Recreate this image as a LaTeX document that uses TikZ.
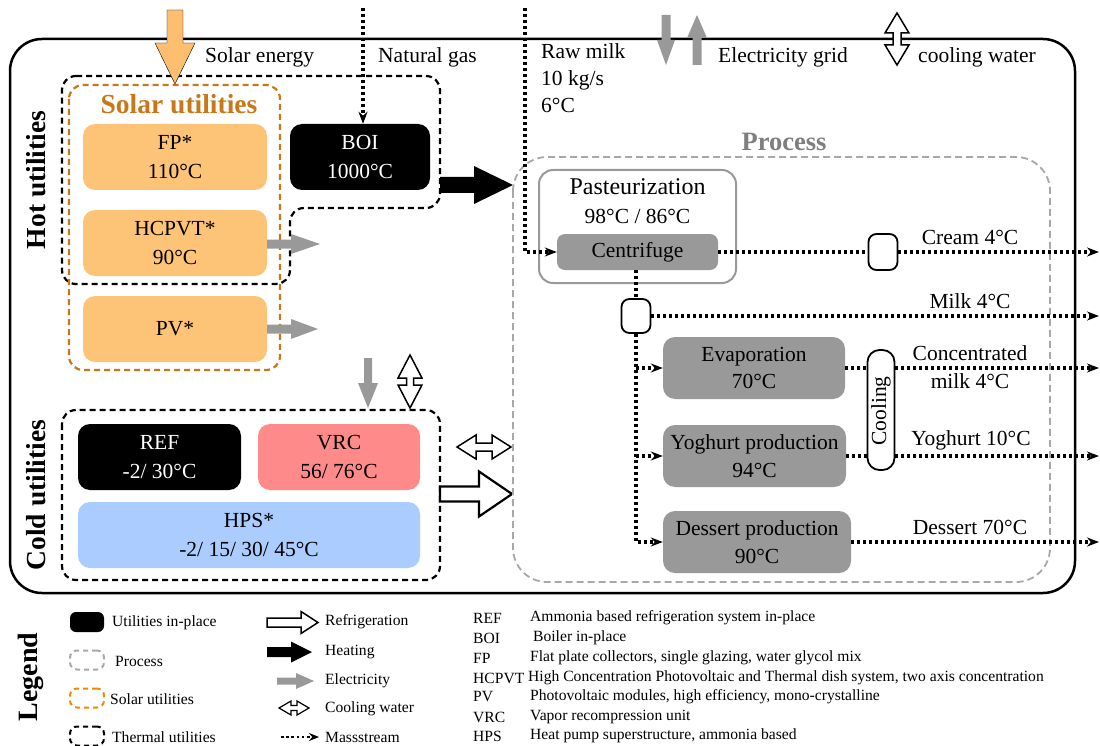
\documentclass[tikz,border=0pt]{standalone}
\usepackage{fontspec}
\setmainfont{Liberation Serif}
\usetikzlibrary{arrows.meta}
\definecolor{solarfill}{HTML}{FDC477}
\definecolor{solardark}{HTML}{C87818}
\definecolor{solarleg}{HTML}{F08A00}
\definecolor{sunarrow}{HTML}{FDBF6F}
\definecolor{vrcfill}{HTML}{FF8A8A}
\definecolor{hpsfill}{HTML}{AACCFF}
\definecolor{procgray}{HTML}{999999}
\definecolor{procdash}{HTML}{A8A8A8}
\definecolor{proctitle}{HTML}{7F7F7F}
\definecolor{elecgray}{HTML}{999999}
\newcommand\mainsz{\fontsize{21.5}{28.5}\selectfont}
\newcommand\legsz{\fontsize{15.6}{19}\selectfont}
% horizontal block arrow: style, x0, y, tip x, shaft half, head half, head base x
\newcommand\harr[7]{\draw[#1] (#2,#3-#5) -- (#7,#3-#5) -- (#7,#3-#6) -- (#4,#3) -- (#7,#3+#6) -- (#7,#3+#5) -- (#2,#3+#5) -- cycle;}
% vertical block arrow: style, x, y0, tip y, shaft half, head half, head base y
\newcommand\varr[7]{\draw[#1] (#2-#5,#3) -- (#2-#5,#7) -- (#2-#6,#7) -- (#2,#4) -- (#2+#6,#7) -- (#2+#5,#7) -- (#2+#5,#3) -- cycle;}
% horizontal double arrow: style, y, x0, x1, shaft half, head half, head length
\newcommand\hdarr[7]{\draw[#1] (#3,#2) -- (#3+#7,#2-#6) -- (#3+#7,#2-#5) -- (#4-#7,#2-#5) -- (#4-#7,#2-#6) -- (#4,#2) -- (#4-#7,#2+#6) -- (#4-#7,#2+#5) -- (#3+#7,#2+#5) -- (#3+#7,#2+#6) -- cycle;}
% vertical double arrow: style, x, y0, y1, shaft half, head half, head length
\newcommand\vdarr[7]{\draw[#1] (#2,#3) -- (#2-#6,#3+#7) -- (#2-#5,#3+#7) -- (#2-#5,#4-#7) -- (#2-#6,#4-#7) -- (#2,#4) -- (#2+#6,#4-#7) -- (#2+#5,#4-#7) -- (#2+#5,#3+#7) -- (#2+#6,#3+#7) -- cycle;}
\tikzset{
  every node/.style={font=\mainsz},
  ubox/.style={rounded corners=12pt, align=center, inner sep=0pt, minimum height=66pt},
  solarbox/.style={ubox, fill=solarfill, minimum width=184pt},
  blackbox/.style={ubox, fill=black, text=white},
  procbox/.style={ubox, fill=procgray, minimum height=62pt, font=\fontsize{21.5}{27.5}\selectfont},
  smallbox/.style={draw=black, fill=white, line width=1.8pt, rounded corners=8pt, inner sep=0pt},
  thermdash/.style={draw=black, line width=2.2pt, dash pattern=on 6pt off 4pt, rounded corners=14pt},
  solardash/.style={draw=solardark, line width=2.2pt, dash pattern=on 6pt off 4pt, rounded corners=14pt},
  procdashed/.style={draw=procdash, line width=1.8pt, dash pattern=on 7pt off 4pt, rounded corners=34pt},
  massline/.style={line width=3.4pt, dash pattern=on 3pt off 3pt},
  massflow/.style={massline, -{Stealth[length=12pt,width=9pt]}},
  elec/.style={fill=elecgray, draw=none},
  heat/.style={fill=black, draw=none},
  cool/.style={fill=white, draw=black, line width=1.5pt, line join=miter},
  refr/.style={fill=white, draw=black, line width=2.2pt, line join=miter},
  title/.style={font=\fontsize{27.5}{32}\selectfont\bfseries},
  legtxt/.style={font=\legsz, anchor=west, inner sep=0pt},
}
\begin{document}
\begin{tikzpicture}[x=1pt, y=-1pt]
\useasboundingbox (0,0) rectangle (1100,746);
% outer frame
\draw[line width=2.5pt, rounded corners=32pt] (10,39) rectangle (1075,593);

% ---- hot utilities ----
\draw[thermdash] (62,76) -- (440,76) -- (440,208) -- (290,208) -- (290,284) -- (62,284) -- cycle;
\draw[solardash] (69,85) rectangle (280,370);
\node[title, text=solardark] (soltitle) at (179,104) {Solar utilities};
\node[solarbox] (fp) at (175,157) {FP*\\110°C};
\node[solarbox] (hcpvt) at (175,243) {HCPVT*\\90°C};
\node[solarbox] (pv) at (175,329) {PV*};
\node[blackbox, minimum width=140pt] (boi) at (360,157) {BOI\\1000°C};
\node[title, rotate=90] (hotlbl) at (36,180) {Hot utilities};

% ---- cold utilities ----
\draw[thermdash] (62,410) rectangle (440,580);
\node[blackbox, minimum width=163pt] (ref) at (159.5,457) {REF\\-2/ 30°C};
\node[ubox, fill=vrcfill, minimum width=162pt] (vrc) at (339,457) {VRC\\56/ 76°C};
\node[ubox, fill=hpsfill, minimum width=342pt] (hps) at (249,535) {HPS*\\-2/ 15/ 30/ 45°C};
\node[title, rotate=90] (coldlbl) at (36,495) {Cold utilities};

% ---- top inputs ----
\varr{fill=sunarrow}{175}{10}{84}{8}{20}{43}
\node[anchor=west, inner sep=0pt] (solarlbl) at (205,57) {Solar energy};
\coordinate (gasin) at (363,8);
\draw[massflow] (gasin) -- (gasin |- boi.north);
\node[anchor=west, inner sep=0pt] (gaslbl) at (378,57) {Natural gas};
\node[anchor=north west, align=left, inner sep=0pt, font=\fontsize{21.5}{27}\selectfont] (milklbl) at (541,43) {Raw milk\\10 kg/s\\6°C};
\varr{elec}{666}{15}{65}{4.5}{9}{40}
\varr{elec}{697}{65}{15}{4.5}{10}{38}
\node[anchor=west, inner sep=0pt] (gridlbl) at (718,57) {Electricity grid};
\vdarr{cool}{897}{13}{65}{4}{12}{20}
\node[anchor=west, inner sep=0pt] (cwlbl) at (918,57) {cooling water};

% ---- utility arrows ----
\harr{heat}{440}{185}{513}{8}{19}{474}
\harr{elec}{267}{244}{320}{4.5}{10}{291}
\harr{elec}{267}{329}{318}{4.5}{10}{291}
\varr{elec}{368}{358}{408}{4}{10}{383}
\vdarr{cool}{410}{355}{408}{3.5}{12}{23}
\hdarr{cool}{447}{457}{511}{4}{12}{19}
\harr{refr}{440}{494}{512}{7.5}{22.5}{479}

% ---- process ----
\draw[procdashed] (513,157) rectangle (1050,582);
\node[font=\fontsize{26.5}{30}\selectfont\bfseries, text=proctitle] (proctitle) at (784,142) {Process};
\node[draw=procgray, line width=2pt, rounded corners=14pt, minimum width=197pt, minimum height=113pt, inner sep=0pt] (past) at (637.5,226.5) {};
\node[font=\fontsize{24}{28}\selectfont] (pastname) at (637.5,187) {Pasteurization};
\node (pasttemp) at (637.5,216) {98°C / 86°C};
\node[ubox, fill=procgray, minimum width=161pt, minimum height=36pt, rounded corners=8pt] (cent) at (637.5,252) {Centrifuge};
\node[smallbox, minimum width=29pt, minimum height=36pt] (sb1) at (883,252) {};
\node[smallbox, minimum width=29pt, minimum height=34pt] (sb2) at (636,316) {};
\node[procbox, minimum width=182pt] (evap) at (754,368) {Evaporation\\70°C};
\node[procbox, minimum width=183pt] (yog) at (754.5,456) {Yoghurt production\\94°C};
\node[procbox, minimum width=188pt] (des) at (757,542) {Dessert production\\90°C};
\node[smallbox, rounded corners=12pt, minimum width=27pt, minimum height=120pt] (coolbox) at (881,410) {};
\node[rotate=90] (cooltxt) at (881,411) {Cooling};

\coordinate (milkin) at (525,8);
\coordinate (creamout) at (1099,252);
\coordinate (milkout) at (1099,316);
\coordinate (evapout) at (1099,368);
\coordinate (yogout) at (1099,456);
\coordinate (desout) at (1099,542);
\draw[massflow] (milkin) |- (cent.west);
\draw[massline] (cent.east) -- (sb1.west);
\draw[massflow] (sb1.east) -- (creamout);
\draw[massline] (sb2.north |- cent.south) -- (sb2.north);
\draw[massflow] (sb2.east) -- (milkout);
\draw[massflow] (sb2.south) |- (des.west);
\draw[massflow] (sb2.south |- evap.west) -- (evap.west);
\draw[massflow] (sb2.south |- yog.west) -- (yog.west);
\draw[massline] (evap.east) -- (coolbox.west |- evap.east);
\draw[massflow] (coolbox.east |- evap.east) -- (evapout);
\draw[massline] (yog.east) -- (coolbox.west |- yog.east);
\draw[massflow] (coolbox.east |- yog.east) -- (yogout);
\draw[massflow] (des.east) -- (desout);

\node (creamlbl) at (970,237) {Cream 4°C};
\node (milk4lbl) at (970,301) {Milk 4°C};
\node[align=center, font=\fontsize{21.5}{27.5}\selectfont] (conclbl) at (970,367) {Concentrated\\milk 4°C};
\node (yoglbl) at (971,440) {Yoghurt 10°C};
\node (deslbl) at (970,527) {Dessert 70°C};

% ---- legend ----
\node[title, font=\fontsize{28}{32}\selectfont\bfseries, rotate=90] (leglbl) at (31,677) {Legend};
\node[fill=black, rounded corners=6pt, minimum width=34pt, minimum height=20pt, inner sep=0pt] (lgin) at (87,622) {};
\node[draw=procdash, line width=2pt, dash pattern=on 5pt off 4pt, rounded corners=7pt, minimum width=34pt, minimum height=19pt, inner sep=0pt] (lgproc) at (87,660) {};
\node[draw=solarleg, line width=2pt, dash pattern=on 5pt off 4pt, rounded corners=7pt, minimum width=34pt, minimum height=19pt, inner sep=0pt] (lgsol) at (87,698) {};
\node[draw=black, line width=2pt, dash pattern=on 5pt off 4pt, rounded corners=7pt, minimum width=34pt, minimum height=19pt, inner sep=0pt] (lgth) at (87,736) {};
\node[legtxt] (lgintxt) at (112,623) {Utilities in-place};
\node[legtxt] (lgproctxt) at (115,661) {Process};
\node[legtxt] (lgsoltxt) at (110,699) {Solar utilities};
\node[legtxt] (lgthtxt) at (112,737) {Thermal utilities};

\harr{refr, line width=1.5pt}{267}{622.5}{318}{4.5}{11}{301}
\harr{heat}{267}{652}{312}{5}{10.5}{291}
\harr{elec}{277}{681}{314}{3.5}{8}{296}
\hdarr{cool, line width=1.2pt}{708}{279}{309}{2.5}{7}{12}
\coordinate (lgm0) at (281,737);
\coordinate (lgm1) at (319,737);
\draw[line width=2.8pt, dash pattern=on 2.6pt off 2.6pt, -{Stealth[length=10pt,width=8pt]}] (lgm0) -- (lgm1);
\node[legtxt] (lgrefr) at (325,622) {Refrigeration};
\node[legtxt] (lgheat) at (325,652) {Heating};
\node[legtxt] (lgelec) at (325,681) {Electricity};
\node[legtxt] (lgcw) at (325,709) {Cooling water};
\node[legtxt] (lgms) at (325,737) {Massstream};

\node[legtxt] (abref) at (473,618) {REF};
\node[legtxt] (abboi) at (473,638) {BOI};
\node[legtxt] (abfp) at (473,658) {FP};
\node[legtxt] (abhc) at (473,678) {HCPVT};
\node[legtxt] (abpv) at (473,697) {PV};
\node[legtxt] (abvrc) at (473,717) {VRC};
\node[legtxt] (abhps) at (473,736) {HPS};
\node[legtxt] (deref) at (530,618) {Ammonia based refrigeration system in-place};
\node[legtxt] (deboi) at (533,638) {Boiler in-place};
\node[legtxt] (defp) at (530,658) {Flat plate collectors, single glazing, water glycol mix};
\node[legtxt] (dehc) at (528,678) {High Concentration Photovoltaic and Thermal dish system, two axis concentration};
\node[legtxt] (depv) at (530,697) {Photovoltaic modules, high efficiency, mono-crystalline};
\node[legtxt] (devrc) at (530,717) {Vapor recompression unit};
\node[legtxt] (dehps) at (530,736) {Heat pump superstructure, ammonia based};
\end{tikzpicture}
\end{document}
